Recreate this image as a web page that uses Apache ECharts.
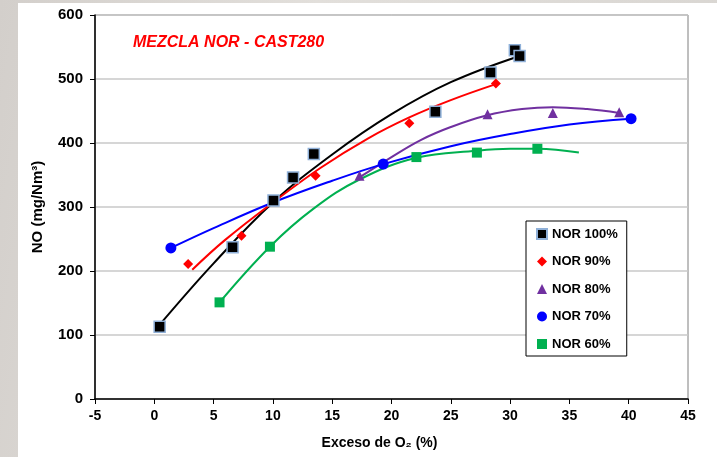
<!DOCTYPE html>
<html>
<head>
<meta charset="utf-8">
<script src="https://cdn.jsdelivr.net/npm/echarts@6/dist/echarts.min.js"></script>
<style>
  html, body { margin: 0; padding: 0; width: 717px; height: 457px; overflow: hidden;
    background: linear-gradient(100deg, #d3cfcb 0%, #e2dfdb 40%, #d8d5d1 100%); }
  #paper { position: absolute; left: 18px; top: 3px; width: 699px; height: 454px; background: #ffffff; }
  #chart { position: absolute; left: 0; top: 0; width: 717px; height: 457px; }
</style>
</head>
<body>
<div id="paper"></div>
<div id="chart"></div>
<script>
// ---- data ----
const seriesNames = ['NOR 100%', 'NOR 90%', 'NOR 80%', 'NOR 70%', 'NOR 60%'];

const nor100X = [0.45, 6.6, 10.05, 11.7, 13.45, 23.7, 28.35, 30.4, 30.8];
const nor100Y = [113, 237, 310, 346, 383, 449, 510, 545, 536];
const nor90X = [2.85, 7.35, 13.6, 21.5, 28.8];
const nor90Y = [211, 255, 349, 431, 493];
const nor80X = [17.3, 28.1, 33.6, 39.2];
const nor80Y = [349, 445, 447, 448];
const nor70X = [1.4, 19.3, 40.2];
const nor70Y = [236, 367, 438];
const nor60X = [5.5, 9.75, 22.1, 27.2, 32.3];
const nor60Y = [151, 238, 378, 385, 391];

// trend lines
const trend100X = [0.4, 5, 10, 15, 20, 25, 30.8];
const trend100Y = [115, 212, 307, 382, 445, 495, 536];
const trend90X = [3.2, 6, 10, 14, 18, 21.5, 25, 28.8];
const trend90Y = [202, 249, 307, 361, 407, 440, 467, 492];
const trend80X = [17.2, 20, 22.5, 25, 28, 31, 33.6, 36.5, 39.2];
const trend80Y = [345, 378, 405, 425, 443, 453, 456, 453, 447];
const trend70X = [1.4, 5, 10, 15, 19.3, 25, 30, 35, 40.2];
const trend70Y = [236, 267, 307, 341, 367, 395, 414, 429, 438];
const trend60X = [5.5, 9.75, 13.4, 17.3, 22.1, 27.2, 30, 32.3, 35.8];
const trend60Y = [151, 238, 297, 343, 377, 388, 391, 391, 385];

const xMin = -5, xMax = 45, xStep = 5;
const yMin = 0, yMax = 600, yStep = 100;

const titleText = 'MEZCLA NOR - CAST280';
const xAxisTitle = 'Exceso de O\u2082 (%)';
const yAxisTitle = 'NO (mg/Nm\u00B3)';

// ---- build ----
function pairs(xs, ys) { return xs.map((x, i) => [x, ys[i]]); }

const pointSets = [
  { x: nor100X, y: nor100Y, tx: trend100X, ty: trend100Y, color: '#000000', line: '#000000',
    symbol: 'rect', size: 11, border: '#8fb0d8', bw: 1.5 },
  { x: nor90X, y: nor90Y, tx: trend90X, ty: trend90Y, color: '#ff0000', line: '#ff0000',
    symbol: 'diamond', size: 10, border: '#ff0000', bw: 0 },
  { x: nor80X, y: nor80Y, tx: trend80X, ty: trend80Y, color: '#7030a0', line: '#7030a0',
    symbol: 'triangle', size: 10, border: '#7030a0', bw: 0 },
  { x: nor70X, y: nor70Y, tx: trend70X, ty: trend70Y, color: '#0000ff', line: '#0000ff',
    symbol: 'circle', size: 11, border: '#0000ff', bw: 0 },
  { x: nor60X, y: nor60Y, tx: trend60X, ty: trend60Y, color: '#00b050', line: '#00b050',
    symbol: 'rect', size: 10, border: '#00b050', bw: 0 }
];

const series = [];
pointSets.forEach((s, i) => {
  series.push({
    type: 'line',
    name: seriesNames[i] + ' trend',
    data: pairs(s.tx, s.ty),
    smooth: 0.4,
    showSymbol: false,
    symbol: 'none',
    silent: true,
    z: 2,
    lineStyle: { color: s.line, width: 2 }
  });
});
pointSets.forEach((s, i) => {
  series.push({
    type: 'scatter',
    name: seriesNames[i],
    data: pairs(s.x, s.y),
    symbol: s.symbol,
    symbolSize: s.size,
    z: 3,
    itemStyle: { color: s.color, borderColor: s.border, borderWidth: s.bw, opacity: 1 }
  });
});

const FONT = '"Liberation Sans", Arial, sans-serif';

const chart = echarts.init(document.getElementById('chart'), null, { renderer: 'canvas' });
chart.setOption({
  animation: false,
  backgroundColor: 'transparent',
  title: {
    text: titleText,
    left: 133, top: 35, padding: 0,
    textStyle: { color: '#ff0000', fontStyle: 'italic', fontWeight: 'bold', fontSize: 16, fontFamily: FONT }
  },
  grid: {
    left: 95, top: 15, right: 29, bottom: 58,
    show: true, borderColor: '#7f7f7f', borderWidth: 1, backgroundColor: '#ffffff'
  },
  legend: {
    data: seriesNames,
    orient: 'vertical',
    left: 526, top: 221,
    padding: [6, 9, 5, 10],
    itemGap: 13.5,
    itemWidth: 10, itemHeight: 10,
    backgroundColor: '#ffffff',
    borderColor: '#000000', borderWidth: 1,
    textStyle: { fontFamily: FONT, fontWeight: 'bold', fontSize: 13, color: '#000000', lineHeight: 14 }
  },
  xAxis: {
    type: 'value', min: xMin, max: xMax, interval: xStep,
    name: xAxisTitle, nameLocation: 'middle', nameGap: 37,
    nameTextStyle: { fontFamily: FONT, fontWeight: 'bold', fontSize: 14, color: '#000', padding: [0, 24, 0, 0] },
    axisLine: { show: true, onZero: false, lineStyle: { color: '#000', width: 1.5 } },
    axisTick: { show: true, inside: false, length: 5, lineStyle: { color: '#000', width: 1 } },
    axisLabel: { margin: 10, fontFamily: FONT, fontWeight: 'bold', fontSize: 14, color: '#000' },
    splitLine: { show: false }
  },
  yAxis: {
    type: 'value', min: yMin, max: yMax, interval: yStep,
    name: yAxisTitle, nameLocation: 'middle', nameGap: 50, nameRotate: 90,
    nameTextStyle: { fontFamily: FONT, fontWeight: 'bold', fontSize: 15, color: '#000' },
    axisLine: { show: true, onZero: false, lineStyle: { color: '#000', width: 1.5 } },
    axisTick: { show: true, inside: false, length: 5, lineStyle: { color: '#000', width: 1 } },
    axisLabel: { margin: 12, fontFamily: FONT, fontWeight: 'bold', fontSize: 15, color: '#000' },
    splitLine: { show: true, lineStyle: { color: '#c8c8c8', width: 1.5 } }
  },
  series: series
});
</script>
</body>
</html>
